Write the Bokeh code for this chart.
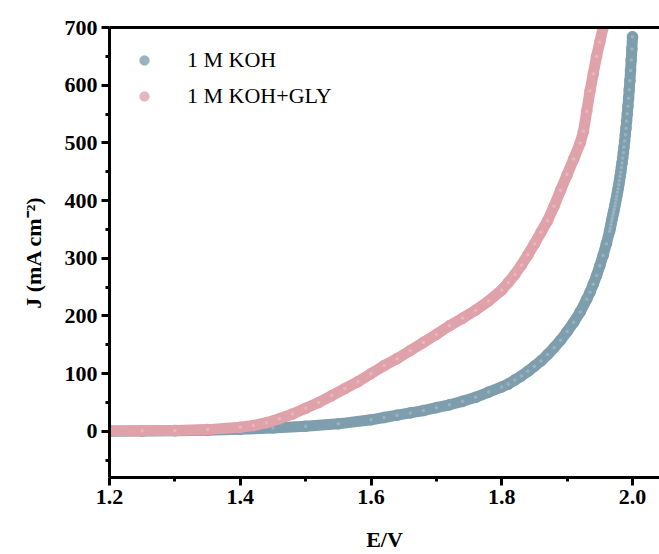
from bokeh.plotting import figure
from bokeh.models import Range1d, LinearAxis, FixedTicker, Legend, LegendItem, NumeralTickFormatter, ColumnDataSource
from bokeh.embed import file_html
from bokeh.resources import INLINE

# ---- data ----
koh_E = [1.20, 1.25, 1.30, 1.35, 1.40, 1.45, 1.50, 1.55, 1.60, 1.62, 1.64, 1.66, 1.68, 1.70,
         1.72, 1.74, 1.76, 1.78, 1.80, 1.81, 1.82, 1.83, 1.84, 1.85, 1.86, 1.87, 1.88, 1.89,
         1.90, 1.91, 1.92, 1.93, 1.935, 1.94, 1.945, 1.95, 1.955, 1.96, 1.965, 1.966, 1.967, 1.968,
         1.969, 1.970, 1.971, 1.972, 1.973, 1.974, 1.975, 1.976, 1.977, 1.978, 1.979, 1.980,
         1.981, 1.982, 1.983, 1.984, 1.985, 1.986, 1.987, 1.988, 1.989, 1.990, 1.991, 1.992,
         1.993, 1.994, 1.995, 1.996, 1.997, 1.998, 1.999, 2.000]
koh_J = [0.0, 0.5, 1.0, 2.0, 3.5, 6.0, 9.0, 13.0, 20.0, 24.0, 28.0, 32.0, 36.0, 41.0,
         46.0, 52.0, 59.0, 68.0, 77.0, 82.0, 89.0, 96.0, 104.0, 113.0, 122.0, 133.0, 145.0, 158.0,
         173.0, 189.0, 207.0, 229.0, 241.0, 255.0, 270.0, 287.0, 305.0, 325.0, 347.0, 352.0, 358.0, 364.0,
         369.5, 374.7, 379.8, 385.0, 390.7, 396.4, 402.2, 407.9, 414.3, 420.5, 427.4, 434.3,
         441.8, 449.2, 457.3, 465.3, 473.9, 483.1, 492.8, 503.1, 514.1, 525.5, 537.7, 550.3,
         563.4, 577.2, 592.1, 607.6, 625.4, 643.7, 662.6, 683.8]

gly_E = [1.20, 1.25, 1.30, 1.35, 1.40, 1.42, 1.44, 1.46, 1.48, 1.50, 1.52, 1.54, 1.56, 1.58,
         1.60, 1.62, 1.64, 1.66, 1.68, 1.70, 1.72, 1.74, 1.76, 1.78, 1.80, 1.81, 1.82, 1.83,
         1.84, 1.85, 1.86, 1.87, 1.88, 1.89, 1.90, 1.91, 1.92, 1.925, 1.93, 1.935, 1.94, 1.945,
         1.95, 1.955, 1.957]
gly_J = [1.0, 1.0, 1.5, 3.0, 7.0, 10.0, 15.0, 22.0, 30.0, 40.0, 50.0, 62.0, 74.0, 86.0,
         100.0, 114.0, 126.0, 140.0, 154.0, 168.0, 183.0, 196.0, 210.0, 226.0, 245.0, 258.0, 272.0, 288.0,
         306.0, 325.0, 345.0, 365.0, 390.0, 418.0, 445.0, 472.0, 500.0, 520.0, 555.0, 590.0, 620.0, 650.0,
         675.0, 700.0, 710.0]

series_names = ["1 M KOH", "1 M KOH+GLY"]
series_colors = ["#7E9EAD", "#E0A2AA"]
highlight_colors = ["#D5E3EA", "#F9E4E7"]

x_ticks = [1.2, 1.4, 1.6, 1.8, 2.0]
x_minor = [1.3, 1.5, 1.7, 1.9, 2.1]
y_ticks = [0, 100, 200, 300, 400, 500, 600, 700]
y_minor = [-50, 50, 150, 250, 350, 450, 550, 650]

FONT = "Liberation Serif"

p = figure(width=659, height=554, output_backend="svg", toolbar_location=None,
           x_range=Range1d(1.2, 2.0413), y_range=Range1d(-80, 700),
           min_border_left=109, min_border_right=0, min_border_top=27, min_border_bottom=77)
p.outline_line_color = None
p.grid.visible = False
p.background_fill_color = "white"

for ax, ticks, minor in ((p.xaxis[0], x_ticks, x_minor), (p.yaxis[0], y_ticks, y_minor)):
    ax.ticker = FixedTicker(ticks=ticks, minor_ticks=minor)
    ax.axis_line_width = 3
    ax.axis_line_color = "black"
    ax.major_tick_line_width = 3
    ax.minor_tick_line_width = 3
    ax.major_tick_in = 0
    ax.major_tick_out = 8
    ax.minor_tick_in = 0
    ax.minor_tick_out = 4
    ax.major_label_text_font = FONT
    ax.major_label_text_font_style = "bold"
    ax.major_label_text_font_size = "22px"
    ax.major_label_text_color = "black"
    ax.axis_label_text_font = FONT
    ax.axis_label_text_font_style = "bold"
    ax.axis_label_text_font_size = "22px"
    ax.axis_label_text_color = "black"

p.xaxis[0].formatter = NumeralTickFormatter(format="0.0")
p.xaxis[0].axis_label = "E/V"
p.xaxis[0].major_label_standoff = 4
p.xaxis[0].axis_label_standoff = 20
p.yaxis[0].axis_label = "J (mA cm\u207b\u00b2)"
p.yaxis[0].major_label_standoff = 4
p.yaxis[0].axis_label_standoff = 16

top = LinearAxis(axis_line_width=3, axis_line_color="black",
                 major_tick_line_color=None, minor_tick_line_color=None,
                 major_label_text_font_size="0px", major_label_text_color=None)
top.ticker = FixedTicker(ticks=[])
p.add_layout(top, "above")

items = []
for name, E, J, c, hc in ((series_names[0], koh_E, koh_J, series_colors[0], highlight_colors[0]),
                          (series_names[1], gly_E, gly_J, series_colors[1], highlight_colors[1])):
    src = ColumnDataSource(dict(E=E, J=J))
    ln = p.line("E", "J", source=src, line_color=c, line_width=11, line_cap="round", line_join="round")
    sc = p.scatter("E", "J", source=src, size=11, fill_color=c, line_color=c, line_width=0.5)
    hl = p.scatter("E", "J", source=src, size=3.5, fill_color=hc, line_color=None, fill_alpha=0.3)
    items.append(LegendItem(label=name, renderers=[sc, hl]))

legend = Legend(items=items, location="top_left", margin=20, padding=21,
                glyph_width=30, glyph_height=24, label_height=24, label_standoff=28, spacing=10,
                label_text_font=FONT, label_text_font_size="22px", label_text_color="black",
                border_line_color=None, background_fill_alpha=0)
p.add_layout(legend, "center")

open("out.html", "w").write(file_html(p, INLINE))
